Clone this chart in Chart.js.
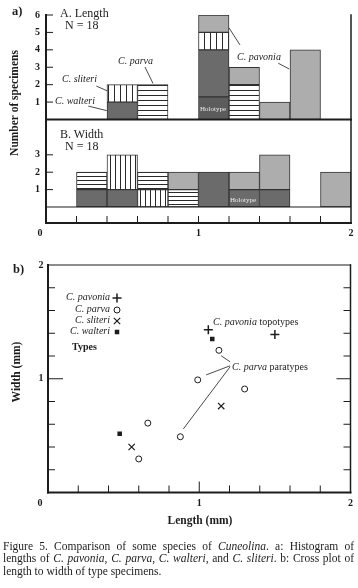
<!DOCTYPE html>
<html>
<head>
<meta charset="utf-8">
<script src="https://cdn.jsdelivr.net/npm/chart.js@4.4.1/dist/chart.umd.min.js"></script>
<style>
  html, body { margin: 0; padding: 0; background: #fff; }
  #fig { position: relative; width: 358px; height: 588px; overflow: hidden;
         font-family: 'Liberation Serif', 'DejaVu Serif', serif; color: #1c1c1c; }
  #fig canvas { position: absolute; left: 0; top: 0; }
  .t { position: absolute; white-space: nowrap; line-height: 1; }
  .it { font-style: italic; }
  .b { font-weight: bold; }
  .rot { transform: translate(-50%, -50%) rotate(-90deg); }
  .cap { position: absolute; left: 3px; width: 351px; font-size: 11.5px; line-height: 1; }
  .just { text-align: justify; text-align-last: justify; }
</style>
</head>
<body>
<div id="fig">
  <canvas id="lenChart" width="358" height="588"></canvas>
  <canvas id="widChart" width="358" height="588"></canvas>
  <canvas id="plotChart" width="358" height="588"></canvas>

  <!-- panel a -->
  <div class="t b" style="left:12px;top:5px;font-size:12.5px">a)</div>
  <div class="t" style="left:60px;top:7px;font-size:12px">A. Length</div>
  <div class="t" style="left:65px;top:19px;font-size:12px">N = 18</div>
  <div class="t" style="left:60px;top:128px;font-size:12px">B. Width</div>
  <div class="t" style="left:65px;top:140px;font-size:12px">N = 18</div>
  <div class="t b rot" style="left:15px;top:103px;font-size:11.5px">Number of specimens</div>
  <div class="t it" style="left:118px;top:55.5px;font-size:10px">C. parva</div>
  <div class="t it" style="left:62px;top:73.5px;font-size:10px">C. sliteri</div>
  <div class="t it" style="left:55px;top:95.5px;font-size:10px">C. walteri</div>
  <div class="t it" style="left:237px;top:51.5px;font-size:10px">C. pavonia</div>
  <div class="t" style="left:200px;top:106px;font-size:7px;color:#eee">Holotype</div>
  <div class="t" style="left:230px;top:197px;font-size:7px;color:#eee">Holotype</div>
  <div class="t b" style="left:37.5px;top:228px;font-size:10px">0</div>

  <!-- panel b -->
  <div class="t b" style="left:13px;top:262.5px;font-size:12.5px">b)</div>
  <div class="t b rot" style="left:17px;top:372px;font-size:11.5px">Width (mm)</div>
  <div class="t b" style="left:37.5px;top:498px;font-size:10px">0</div>
  <div class="t it" style="right:248px;top:291.5px;font-size:10px">C. pavonia</div>
  <div class="t it" style="right:248px;top:303.5px;font-size:10px">C. parva</div>
  <div class="t it" style="right:248px;top:314.5px;font-size:10px">C. sliteri</div>
  <div class="t it" style="right:248px;top:325.5px;font-size:10px">C. walteri</div>
  <div class="t b" style="left:72px;top:342px;font-size:10px">Types</div>
  <div class="t" style="left:213px;top:316.5px;font-size:10px"><i>C. pavonia</i> topotypes</div>
  <div class="t" style="left:232px;top:361.5px;font-size:10px"><i>C. parva</i> paratypes</div>
  <div class="t b" style="left:200px;top:515px;font-size:11.5px;transform:translateX(-50%)">Length (mm)</div>

  <!-- caption -->
  <div class="cap just" style="top:540.5px">Figure 5. Comparison of some species of <i>Cuneolina</i>. a: Histogram of</div>
  <div class="cap just" style="top:553px">lengths of <i>C. pavonia</i>, <i>C. parva</i>, <i>C. walteri</i>, and <i>C. sliteri</i>. b: Cross plot of</div>
  <div class="cap" style="top:565.5px">length to width of type specimens.</div>
</div>

<script>
// ---- data ----
// histogram bins are 0.2 mm wide; labels are the bin centres (mm)
const binCenters = [0.1, 0.3, 0.5, 0.7, 0.9, 1.1, 1.3, 1.5, 1.7, 1.9];

// A. Length - number of specimens per bin
const lenHolotype = [null, null, null, null, null, 1.3, null, null, null, null];
const lenWalteri  = [null, null, 1, null, null, 2.7, null, null, null, null];
const lenSliteri  = [null, null, 1, null, null, 1, null, null, null, null];
const lenParva    = [null, null, null, 2, null, null, 2, null, null, null];
const lenPavonia  = [null, null, null, null, null, 1, 1, 1, 4, null];

// B. Width - number of specimens per bin
const widHolotype = [null, null, null, null, null, null, 1, null, null, null];
const widWalteri  = [null, 1, 1, null, null, 2, null, 1, null, null];
const widSliteri  = [null, null, 2, 1, null, null, null, null, null, null];
const widParva    = [null, 1, null, 1, 1, null, null, null, null, null];
const widPavonia  = [null, null, null, null, 1, null, 1, 2, null, 2];

// b. cross plot of type specimens (mm)
const pavoniaLength = [1.06, 1.50];
const pavoniaWidth  = [1.43, 1.39];
const parvaLength   = [1.13, 0.99, 1.30, 0.66, 0.875, 0.60];
const parvaWidth    = [1.25, 0.99, 0.91, 0.61, 0.49, 0.295];
const sliteriLength = [1.145, 0.553];
const sliteriWidth  = [0.76, 0.40];
const walteriLength = [1.086, 0.474];
const walteriWidth  = [1.35, 0.517];

// tick values
const mmTicks = [0, 0.2, 0.4, 0.6, 0.8, 1, 1.2, 1.4, 1.6, 1.8, 2];
const mmLabels = {1: '1', 2: '2'};
const lenCountTicks = [1, 2, 3, 4, 5, 6];
const widCountTicks = [1, 2, 3];

// ---- styling ----
const INK = '#1c1c1c';
const DARK = '#6b6b6b';
const LIGHT = '#adadad';
const HOLO = '#5c5c5c';

Chart.defaults.font.family = "'Liberation Serif', 'DejaVu Serif', serif";
Chart.defaults.color = INK;

function stripes(vertical, gap) {
    const c = document.createElement('canvas');
    c.width = vertical ? gap : 1;
    c.height = vertical ? 1 : gap;
    const g = c.getContext('2d');
    g.fillStyle = '#fff';
    g.fillRect(0, 0, c.width, c.height);
    g.fillStyle = '#2a2a2a';
    g.fillRect(0, 0, 1, 1);
    return g.createPattern(c, 'repeat');
}

function bars(label, data, fill) {
    return {
        label: label,
        data: data,
        backgroundColor: fill,
        borderColor: '#333',
        borderWidth: 1,
        borderSkipped: false,
        barPercentage: 1,
        categoryPercentage: 1
    };
}

function setTicks(values) {
    return function (scale) {
        scale.ticks = values.map(v => ({value: v}));
    };
}

// frame edges, inward tick marks and leader lines
const framePlugin = {
    id: 'frame',
    afterDatasetsDraw(chart, args, opts) {
        const {ctx, chartArea: a, scales} = chart;
        ctx.save();
        ctx.strokeStyle = INK;

        ctx.lineWidth = 0.8;
        for (const [p, q] of (opts.leaders || [])) {
            ctx.beginPath();
            ctx.moveTo(scales.x.getPixelForValue(p[0]), scales.y.getPixelForValue(p[1]));
            ctx.lineTo(scales.x.getPixelForValue(q[0]), scales.y.getPixelForValue(q[1]));
            ctx.stroke();
        }

        if (opts.baseline !== undefined) {
            const y = scales.y.getPixelForValue(opts.baseline);
            ctx.lineWidth = 1;
            ctx.beginPath();
            ctx.moveTo(a.left, y);
            ctx.lineTo(a.right, y);
            ctx.stroke();
        }

        ctx.lineCap = 'square';
        for (const e of (opts.edges || [])) {
            ctx.lineWidth = e.width;
            ctx.beginPath();
            if (e.edge === 'left') { ctx.moveTo(a.left, a.top); ctx.lineTo(a.left, a.bottom); }
            if (e.edge === 'right') { ctx.moveTo(a.right, a.top); ctx.lineTo(a.right, a.bottom); }
            if (e.edge === 'top') { ctx.moveTo(a.left, a.top); ctx.lineTo(a.right, a.top); }
            if (e.edge === 'bottom') { ctx.moveTo(a.left, a.bottom); ctx.lineTo(a.right, a.bottom); }
            ctx.stroke();
        }

        ctx.lineCap = 'butt';
        for (const t of (opts.ticks || [])) {
            const s = scales[t.scale];
            ctx.lineWidth = t.width || 1;
            for (const tk of s.ticks) {
                if ((t.skip || []).includes(tk.value)) continue;
                const len = (t.long && tk.value === t.long.value) ? t.long.len : t.len;
                const p = s.getPixelForValue(tk.value);
                ctx.beginPath();
                if (t.edge === 'left') { ctx.moveTo(a.left, p); ctx.lineTo(a.left + len, p); }
                if (t.edge === 'right') { ctx.moveTo(a.right, p); ctx.lineTo(a.right - len, p); }
                if (t.edge === 'bottom') { ctx.moveTo(p, a.bottom); ctx.lineTo(p, a.bottom - len); }
                ctx.stroke();
            }
        }
        ctx.restore();
    }
};

// little symbol key of the cross plot
const keyPlugin = {
    id: 'key',
    afterDraw(chart, args, opts) {
        const ctx = chart.ctx;
        ctx.save();
        chart.data.datasets.forEach((ds, i) => {
            ctx.strokeStyle = ds.borderColor;
            ctx.fillStyle = ds.backgroundColor;
            ctx.lineWidth = ds.borderWidth;
            Chart.helpers.drawPoint(ctx, {
                pointStyle: ds.pointStyle,
                radius: ds.pointRadius,
                rotation: 0,
                borderWidth: ds.borderWidth
            }, opts.x, opts.y[i]);
        });
        ctx.restore();
    }
};

const countTickFont = {size: 10, weight: 'bold'};

// ---- A. Length ----
new Chart(document.getElementById('lenChart'), {
    type: 'bar',
    data: {
        labels: binCenters,
        datasets: [
            bars('Holotype', lenHolotype, HOLO),
            bars('C. walteri', lenWalteri, DARK),
            bars('C. sliteri', lenSliteri, stripes(true, 6)),
            bars('C. parva', lenParva, stripes(false, 5)),
            bars('C. pavonia', lenPavonia, LIGHT)
        ]
    },
    options: {
        responsive: false,
        animation: false,
        events: [],
        layout: {padding: {top: 15, right: 7, bottom: 468.5, left: 0}},
        plugins: {
            legend: {display: false},
            tooltip: {enabled: false},
            frame: {
                edges: [{edge: 'left', width: 2}, {edge: 'right', width: 1.5}, {edge: 'bottom', width: 2}],
                ticks: [{scale: 'y', edge: 'left', len: 7}],
                leaders: [
                    [[0.649, 3.01], [0.702, 2.07]],
                    [[0.33, 1.92], [0.40, 1.65]],
                    [[0.277, 0.77], [0.398, 0.51]],
                    [[1.20, 5.26], [1.272, 4.28]],
                    [[1.523, 3.23], [1.595, 2.90]]
                ]
            }
        },
        scales: {
            x: {
                type: 'linear', min: 0, max: 2, offset: false, stacked: true, display: false,
                afterBuildTicks: setTicks(mmTicks)
            },
            y: {
                min: 0, max: 6, stacked: true,
                afterBuildTicks: setTicks(lenCountTicks),
                afterFit: s => { s.width = 46; },
                grid: {display: false, drawTicks: false},
                border: {display: false},
                ticks: {padding: 6, font: countTickFont, autoSkip: false}
            }
        }
    },
    plugins: [framePlugin]
});

// ---- B. Width ----
new Chart(document.getElementById('widChart'), {
    type: 'bar',
    data: {
        labels: binCenters,
        datasets: [
            bars('Holotype', widHolotype, DARK),
            bars('C. walteri', widWalteri, DARK),
            bars('C. sliteri', widSliteri, stripes(true, 5)),
            bars('C. parva', widParva, stripes(false, 4)),
            bars('C. pavonia', widPavonia, LIGHT)
        ]
    },
    options: {
        responsive: false,
        animation: false,
        events: [],
        layout: {padding: {top: 120, right: 7, bottom: 345, left: 0}},
        plugins: {
            legend: {display: false},
            tooltip: {enabled: false},
            frame: {
                baseline: 0,
                edges: [{edge: 'left', width: 2}, {edge: 'right', width: 1.5}, {edge: 'bottom', width: 2}],
                ticks: [
                    {scale: 'y', edge: 'left', len: 7},
                    {scale: 'x', edge: 'bottom', len: 7, skip: [0, 2]}
                ]
            }
        },
        scales: {
            x: {
                type: 'linear', min: 0, max: 2, offset: false, stacked: true,
                afterBuildTicks: setTicks(mmTicks),
                afterFit: s => { s.height = 20; },
                grid: {display: false, drawTicks: false},
                border: {display: false},
                ticks: {padding: 4, font: countTickFont, autoSkip: false, maxRotation: 0,
                        callback: v => mmLabels[v] || ''}
            },
            y: {
                min: -0.92, max: 5, stacked: true,
                afterBuildTicks: setTicks(widCountTicks),
                afterFit: s => { s.width = 46; },
                grid: {display: false, drawTicks: false},
                border: {display: false},
                ticks: {padding: 6, font: countTickFont, autoSkip: false}
            }
        }
    },
    plugins: [framePlugin]
});

// ---- b. cross plot ----
function pts(xs, ys) {
    return xs.map((x, i) => ({x: x, y: ys[i]}));
}

new Chart(document.getElementById('plotChart'), {
    type: 'scatter',
    data: {
        datasets: [
            {label: 'C. pavonia', data: pts(pavoniaLength, pavoniaWidth), pointStyle: 'cross',
             pointRadius: 4.5, borderWidth: 1.5, borderColor: INK, backgroundColor: INK},
            {label: 'C. parva', data: pts(parvaLength, parvaWidth), pointStyle: 'circle',
             pointRadius: 3, borderWidth: 1, borderColor: INK, backgroundColor: '#fff'},
            {label: 'C. sliteri', data: pts(sliteriLength, sliteriWidth), pointStyle: 'crossRot',
             pointRadius: 4.5, borderWidth: 1.2, borderColor: INK, backgroundColor: INK},
            {label: 'C. walteri', data: pts(walteriLength, walteriWidth), pointStyle: 'rect',
             pointRadius: 3.2, borderWidth: 0, borderColor: INK, backgroundColor: INK}
        ]
    },
    options: {
        responsive: false,
        animation: false,
        events: [],
        layout: {padding: {top: 265, right: 6, bottom: 75.5, left: 0}},
        plugins: {
            legend: {display: false},
            tooltip: {enabled: false},
            key: {x: 117, y: [298, 310, 321, 332]},
            frame: {
                edges: [{edge: 'left', width: 2}, {edge: 'bottom', width: 2},
                        {edge: 'top', width: 1.2}, {edge: 'right', width: 1.5}],
                ticks: [
                    {scale: 'y', edge: 'left', len: 7, skip: [0, 2], long: {value: 1, len: 15}},
                    {scale: 'y', edge: 'right', len: 7, skip: [0, 2], long: {value: 1, len: 14}},
                    {scale: 'x', edge: 'bottom', len: 7, skip: [0, 2], long: {value: 1, len: 11}}
                ],
                leaders: [
                    [[1.145, 1.202], [1.204, 1.149]],
                    [[1.046, 1.034], [1.204, 1.114]],
                    [[0.895, 0.559], [1.204, 1.105]]
                ]
            }
        },
        scales: {
            x: {
                type: 'linear', min: 0, max: 2,
                afterBuildTicks: setTicks(mmTicks),
                afterFit: s => { s.height = 20; },
                grid: {display: false, drawTicks: false},
                border: {display: false},
                ticks: {padding: 5, font: countTickFont, autoSkip: false, maxRotation: 0,
                        callback: v => mmLabels[v] || ''}
            },
            y: {
                type: 'linear', min: 0, max: 2,
                afterBuildTicks: setTicks(mmTicks),
                afterFit: s => { s.width = 48; },
                grid: {display: false, drawTicks: false},
                border: {display: false},
                ticks: {padding: 4.5, font: countTickFont, autoSkip: false,
                        callback: v => mmLabels[v] || ''}
            }
        }
    },
    plugins: [framePlugin, keyPlugin]
});
</script>
</body>
</html>
